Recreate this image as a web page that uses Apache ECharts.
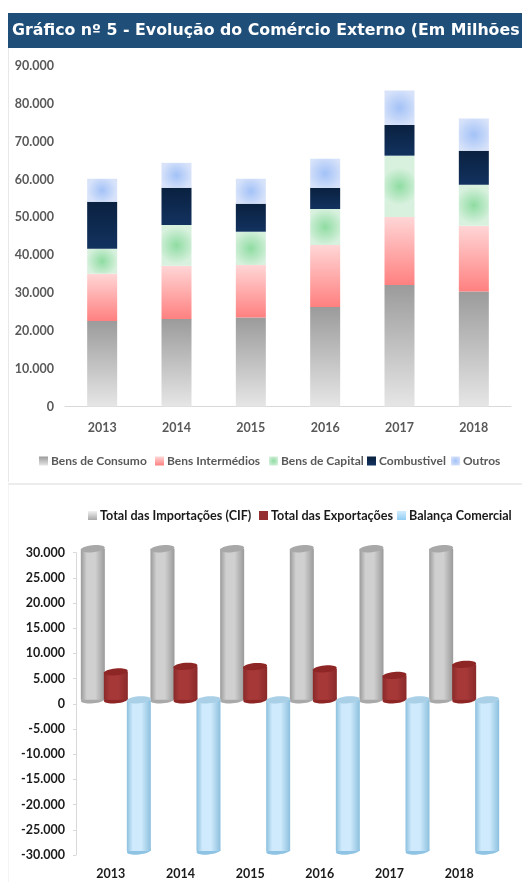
<!DOCTYPE html>
<html><head><meta charset="utf-8">
<style>html,body{margin:0;padding:0;background:#fff}#c{width:522px;height:882px}</style>
<script src="https://cdn.jsdelivr.net/npm/echarts@6/dist/echarts.min.js"></script>
</head><body><div id="c"></div>
<script>
const titleText = 'Gráfico nº 5 - Evolução do Comércio Externo (Em Milhões';
const years = ['2013','2014','2015','2016','2017','2018'];
const bensConsumo = [22600,23100,23500,26300,32100,30400];
const bensIntermedios = [12500,14100,13900,16400,18000,17400];
const bensCapital = [6600,10800,8800,9500,16200,10800];
const combustivel = [12400,9800,7400,5600,8100,9000];
const outros = [6100,6600,6600,7700,9100,8500];
const importacoes = [30000,30000,30000,30000,30000,30000];
const exportacoes = [5550,6650,6600,6150,4850,7050];
const balanca = [-30000,-30000,-30000,-30000,-30000,-30000];
const fmt = v => String(v).replace(/\B(?=(\d{3})+$)/g,'.');

const lin = (a,b) => ({type:'linear',x:0,y:0,x2:0,y2:1,colorStops:[{offset:0,color:a},{offset:1,color:b}]});
const rad = (a,b) => ({type:'radial',x:0.5,y:0.5,r:0.62,colorStops:[{offset:0,color:a},{offset:1,color:b}]});
const hor = (edge,mid) => ({type:'linear',x:0,y:0,x2:1,y2:0,colorStops:[{offset:0,color:edge},{offset:0.25,color:mid},{offset:0.6,color:mid},{offset:1,color:edge}]});

const stackSeries = [
 ['Bens de Consumo',bensConsumo,lin('#9b9b9b','#e6e6e6')],
 ['Bens Intermédios',bensIntermedios,lin('#ffd6d6','#ff8080')],
 ['Bens de Capital',bensCapital,rad('#8fdca2','#d8f1de')],
 ['Combustivel',combustivel,lin('#0a2140','#12325f')],
 ['Outros',outros,rad('#a3c2f7','#d8e3fa')]
].map(([name,data,color]) => ({name,type:'bar',stack:'a',barWidth:30,xAxisIndex:0,yAxisIndex:0,data,itemStyle:{color}}));

function cyl(offset, bodyEdge, bodyMid, topColor, baseColor){
  return function(params, api){
    const p0 = api.coord([api.value(0), 0]);
    const p1 = api.coord([api.value(0), api.value(1)]);
    const lift = 4, hw = 12, ry = 3.5, rot = 0.1;
    const cx = p0[0] + offset;
    const yBase = p0[1] - lift, yEnd = p1[1] - lift;
    const top = Math.min(yBase,yEnd), bot = Math.max(yBase,yEnd);
    const ell = (cy,fill,z) => ({type:'ellipse',shape:{cx,cy,rx:hw,ry},rotation:rot,originX:cx,originY:cy,style:{fill},z2:z});
    return {type:'group',children:[
      ell(bot,baseColor,1),
      {type:'rect',shape:{x:cx-hw,y:top,width:hw*2,height:bot-top},style:{fill:hor(bodyEdge,bodyMid)},z2:2},
      ell(top,topColor,3)
    ]};
  };
}
const cylDefs = [
 ['Total das Importações (CIF)',importacoes,-18,'#9a9a9a','#d0d0d0','#a8a8a8','#a9a9a9',lin('#f2f2f2','#a8a8a8')],
 ['Total das Exportações',exportacoes,5,'#8a2a2a','#a63838','#8f2626','#8f2626','#953030'],
 ['Balança Comercial',balanca,28,'#8cc0de','#cfeafc','#a9d0e6','#8fc3e3',lin('#d2edff','#92cdf2')]
];
const cylSeries = cylDefs.map(([name,vals,off,e,m,t,b,leg]) => ({
  name,type:'custom',xAxisIndex:1,yAxisIndex:1,clip:false,
  data:vals.map((v,i)=>[i,v]),
  encode:{x:0,y:1},
  itemStyle:{color:leg},
  renderItem:cyl(off,e,m,t,b)
}));

const chart = echarts.init(document.getElementById('c'),null,{renderer:'canvas'});
const font = 'Lato';
const legendOf = (name,left,top,size,color) => ({left,top,itemWidth:9,itemHeight:9,icon:'rect',padding:0,
   textStyle:{fontFamily:font,fontSize:size,fontWeight:'bold',color,padding:[0,0,0,-2]},data:[name]});
const stackLegendLeft = [39,155,269,367,451];
const cylLegendLeft = [88,259,397];
chart.setOption({
 animation:false,
 backgroundColor:'#fff',
 graphic:[
  {type:'rect',shape:{x:8,y:48,width:1,height:434},style:{fill:'#e8e8e8'},silent:true},
  {type:'rect',shape:{x:8,y:485,width:1,height:397},style:{fill:'#f4f4f4'},silent:true},
  {type:'rect',shape:{x:8,y:483,width:514,height:2},style:{fill:'#ececec'},silent:true},
  {type:'rect',shape:{x:8,y:13,width:514,height:35},style:{fill:'#1f4e79'},silent:true},
  {type:'text',x:12,y:31,style:{text:titleText,fill:'#fff',font:'bold 15.8px "DejaVu Sans"',textVerticalAlign:'middle'},silent:true}
 ],
 grid:[
  {left:65,width:446,top:66,height:340.5},
  {left:76,width:418,top:552.7,height:302.3}
 ],
 legend:[
  ...stackSeries.map((s,i)=>legendOf(s.name,stackLegendLeft[i],455,12,'#595959')),
  ...cylDefs.map((d,i)=>legendOf(d[0],cylLegendLeft[i],509,12.6,'#1a1a1a'))
 ],
 xAxis:[
  {type:'category',gridIndex:0,data:years,axisTick:{show:false},
   axisLine:{lineStyle:{color:'#d9d9d9',width:1}},
   axisLabel:{fontFamily:font,fontSize:12.5,fontWeight:'bold',color:'#595959',margin:15}},
  {type:'category',gridIndex:1,data:years,axisTick:{show:false},
   axisLine:{show:false,onZero:false},position:'bottom',
   axisLabel:{fontFamily:font,fontSize:12.5,fontWeight:'bold',color:'#1a1a1a',margin:12}}
 ],
 yAxis:[
  {type:'value',gridIndex:0,min:0,max:90000,interval:10000,splitLine:{show:false},axisLine:{show:false},axisTick:{show:false},
   axisLabel:{fontFamily:font,fontSize:12.5,fontWeight:'bold',color:'#595959',margin:11,padding:[4,0,0,0],formatter:fmt}},
  {type:'value',gridIndex:1,min:-30000,max:30000,interval:5000,splitLine:{show:false},
   axisLine:{show:true,onZero:false,lineStyle:{color:'#d9d9d9',width:1}},
   axisTick:{show:true,length:3,lineStyle:{color:'#d9d9d9'}},
   axisLabel:{fontFamily:font,fontSize:12.5,fontWeight:'bold',color:'#1a1a1a',margin:11,padding:[3,0,0,0],formatter:fmt}}
 ],
 series:[...stackSeries,...cylSeries]
});
</script></body></html>
